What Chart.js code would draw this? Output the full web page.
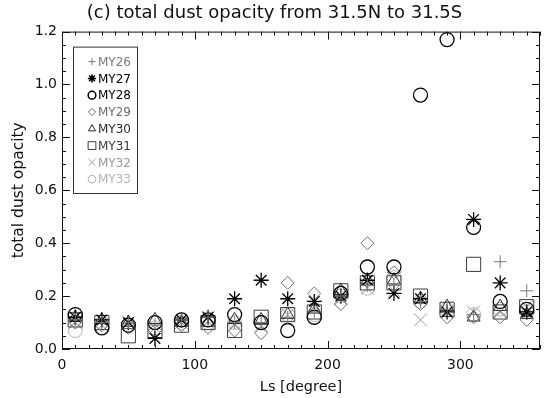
<!DOCTYPE html>
<html>
<head>
<meta charset="utf-8">
<script src="https://cdn.jsdelivr.net/npm/chart.js@4/dist/chart.umd.min.js"></script>
<style>
  html, body { margin: 0; padding: 0; background: #fff; }
  #wrap { width: 551px; height: 398px; }
</style>
</head>
<body>
<div id="wrap"><canvas id="dust" width="551" height="398"></canvas></div>
<script>
// Ls bin centres (degrees)
const lsBins = [10, 30, 50, 70, 90, 110, 130, 150, 170, 190, 210, 230, 250, 270, 290, 310, 330, 350];
const xTickValues = [0, 100, 200, 300];
const yTickValues = [0.0, 0.2, 0.4, 0.6, 0.8, 1.0, 1.2];

// total dust opacity per Mars year
const my26 = [0.11, 0.10, 0.10, 0.09, 0.11, 0.12, 0.10, 0.10, 0.12, 0.14, 0.20, 0.24, 0.24, 0.18, 0.15, 0.13, 0.33, 0.22];
const my27 = [0.12, 0.11, 0.10, 0.04, 0.11, 0.12, 0.19, 0.26, 0.19, 0.18, 0.20, 0.26, 0.21, 0.19, 0.14, 0.49, 0.25, 0.14];
const my28 = [0.13, 0.08, 0.09, 0.10, 0.11, 0.11, 0.13, 0.10, 0.07, 0.12, 0.21, 0.31, 0.31, 0.96, 1.17, 0.46, 0.18, 0.15];
const my29 = [0.10, 0.09, 0.08, 0.07, 0.09, 0.08, 0.07, 0.06, 0.25, 0.21, 0.17, 0.40, 0.29, 0.17, 0.12, 0.12, 0.12, 0.11];
const my30 = [0.12, 0.11, 0.10, 0.11, 0.10, 0.10, 0.11, 0.11, 0.13, 0.15, 0.22, 0.26, 0.26, 0.19, 0.16, 0.12, 0.16, 0.13];
const my31 = [0.11, 0.10, 0.05, 0.07, 0.09, 0.10, 0.07, 0.12, 0.13, 0.14, 0.22, 0.25, 0.25, 0.20, 0.15, 0.32, 0.14, 0.16];
const my32 = [0.10, 0.09, 0.10, 0.08, 0.10, 0.12, 0.09, 0.09, 0.13, 0.16, 0.19, 0.23, 0.22, 0.11, 0.14, 0.14, 0.14, 0.16];
const my33 = [0.07, 0.10, 0.09, 0.08, 0.10, 0.10, 0.10, 0.10, 0.13, 0.13, 0.20, 0.23, 0.27, 0.18, 0.15, 0.13, 0.15, 0.14];

const FONT = 'DejaVu Sans';

// label, values, marker, colour, marker radius
const series = [
    ['MY26', my26, 'cross', '#7a7a7a', 6.5],
    ['MY27', my27, 'star', '#000000', 7.5],
    ['MY28', my28, 'circle', '#000000', 7],
    ['MY29', my29, 'rectRot', '#6e6e6e', 6.5],
    ['MY30', my30, 'triangle', '#2a2a2a', 7.5],
    ['MY31', my31, 'rect', '#3c3c3c', 10],
    ['MY32', my32, 'crossRot', '#9a9a9a', 9],
    ['MY33', my33, 'circle', '#b4b4b4', 7]
];

const datasets = series.map(([label, vals, style, color, r]) => ({
    label: label,
    data: lsBins.map((ls, i) => ({ x: ls, y: vals[i] })),
    pointStyle: style,
    pointRadius: r,
    pointHoverRadius: r,
    borderColor: color,
    backgroundColor: 'rgba(0,0,0,0)',
    pointBorderWidth: (label === 'MY27' || label === 'MY28') ? 1.3 : 1,
    showLine: false
}));

// IDL-style frame with inward ticks on all four sides
const framePlugin = {
    id: 'frame',
    afterDatasetsDraw(chart) {
        const { ctx, chartArea: a, scales } = chart;
        const xs = scales.x, ys = scales.y;
        ctx.save();
        ctx.strokeStyle = '#111';
        ctx.lineWidth = 1;
        ctx.beginPath();
        ctx.rect(a.left + 0.5, a.top + 0.5, a.right - a.left - 1, a.bottom - a.top - 1);
        for (let v = 0; v <= 360; v += 10) {
            const px = Math.round(xs.getPixelForValue(v)) + 0.5;
            const len = v % 100 === 0 ? 8 : 4;
            ctx.moveTo(px, a.bottom);
            ctx.lineTo(px, a.bottom - len);
            ctx.moveTo(px, a.top);
            ctx.lineTo(px, a.top + len);
        }
        for (let k = 0; k <= 24; k++) {
            const py = Math.round(ys.getPixelForValue(k * 0.05)) + 0.5;
            const len = k % 4 === 0 ? 8 : 4;
            ctx.moveTo(a.left, py);
            ctx.lineTo(a.left + len, py);
            ctx.moveTo(a.right, py);
            ctx.lineTo(a.right - len, py);
        }
        ctx.stroke();
        ctx.restore();
    }
};

// boxed legend inside the upper-left corner of the plot
const boxLegend = {
    id: 'boxLegend',
    afterDraw(chart) {
        const { ctx, chartArea: a } = chart;
        const left = a.left + 11, top = a.top + 15;
        const w = 64, rowH = 16.8;
        const h = rowH * series.length + 12;
        ctx.save();
        ctx.fillStyle = '#fff';
        ctx.fillRect(left, top, w, h);
        ctx.strokeStyle = '#333';
        ctx.lineWidth = 1;
        ctx.strokeRect(left + 0.5, top + 0.5, w, h);
        ctx.font = '12px "' + FONT + '"';
        ctx.textBaseline = 'middle';
        series.forEach(([label, , style, color, r], i) => {
            const y = top + 15 + i * rowH;
            ctx.strokeStyle = color;
            ctx.fillStyle = 'rgba(0,0,0,0)';
            ctx.lineWidth = (label === 'MY27' || label === 'MY28') ? 1.5 : 1;
            Chart.helpers.drawPoint(ctx, { pointStyle: style, radius: r * 0.55, borderWidth: 1 }, left + 19, y);
            ctx.fillStyle = color;
            ctx.fillText(label, left + 25, y + 1);
        });
        ctx.restore();
    }
};

new Chart(document.getElementById('dust'), {
    type: 'scatter',
    data: { datasets: datasets },
    options: {
        responsive: false,
        animation: false,
        events: [],
        layout: { padding: { left: 0, right: 2, top: 0, bottom: 0 } },
        plugins: {
            legend: { display: false },
            tooltip: { enabled: false },
            title: {
                display: true,
                text: '(c) total dust opacity from 31.5N to 31.5S',
                color: '#111',
                font: { family: FONT, size: 18, weight: 'normal' },
                padding: { top: 3, bottom: 7 }
            }
        },
        scales: {
            x: {
                type: 'linear',
                min: 0,
                max: 360,
                afterBuildTicks: s => { s.ticks = xTickValues.map(v => ({ value: v })); },
                afterFit: s => { s.height = 49; },
                grid: { display: false, drawTicks: false },
                border: { display: false },
                ticks: {
                    color: '#111',
                    padding: 8,
                    maxRotation: 0,
                    font: { family: FONT, size: 14 },
                    callback: v => String(v)
                },
                title: {
                    display: true,
                    text: 'Ls [degree]',
                    color: '#111',
                    font: { family: FONT, size: 14.5 },
                    padding: { top: 0, bottom: 2 }
                }
            },
            y: {
                type: 'linear',
                min: 0,
                max: 1.2,
                afterBuildTicks: s => { s.ticks = yTickValues.map(v => ({ value: v })); },
                afterFit: s => { s.width = 62; },
                grid: { display: false, drawTicks: false },
                border: { display: false },
                ticks: {
                    color: '#111',
                    padding: 5,
                    font: { family: FONT, size: 14 },
                    callback: v => Number(v).toFixed(1)
                },
                title: {
                    display: true,
                    text: 'total dust opacity',
                    color: '#111',
                    font: { family: FONT, size: 15.5 },
                    padding: { top: 10, bottom: 0 }
                }
            }
        }
    },
    plugins: [framePlugin, boxLegend]
});
</script>
</body>
</html>
